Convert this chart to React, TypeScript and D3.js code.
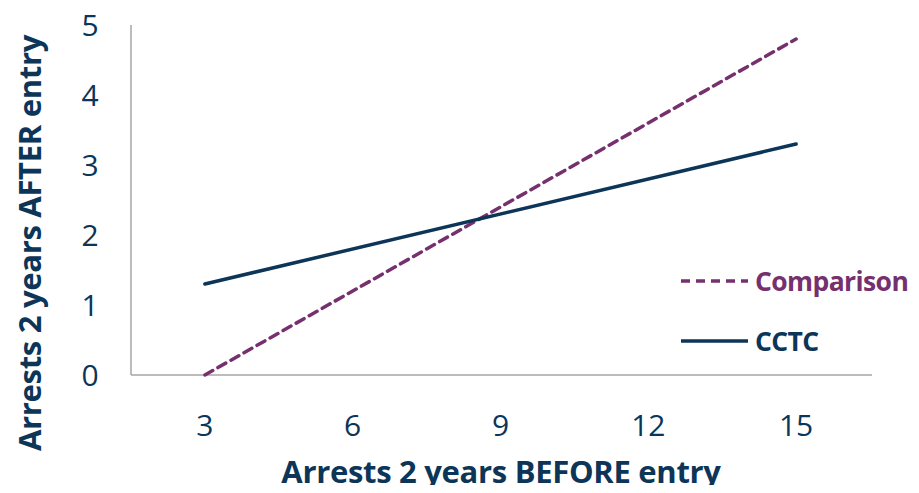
import { useEffect, useRef } from "react";
import * as d3 from "d3";

const xTicks = [3, 6, 9, 12, 15];
const yTicks = [0, 1, 2, 3, 4, 5];
const comparisonX = [3, 15];
const comparisonY = [0, 4.8];
const cctcX = [3, 15];
const cctcY = [1.3, 3.3];

const NAVY = "#0c3558";
const PURPLE = "#76306e";
const FONT = "'Open Sans', 'Noto Sans', sans-serif";

export default function App() {
  const svgRef = useRef<SVGSVGElement | null>(null);

  useEffect(() => {
    const svg = d3.select(svgRef.current);
    svg.selectAll("*").remove();

    const x = d3.scaleLinear().domain([1.5, 16.5]).range([131, 870]);
    const y = d3.scaleLinear().domain([0, 5]).range([375, 25]);

    // axes lines
    svg.append("line").attr("x1", 131).attr("x2", 131).attr("y1", y(5)).attr("y2", y(0))
      .attr("stroke", "#a6a6a6").attr("stroke-width", 1.5);
    svg.append("line").attr("x1", 131).attr("x2", 872).attr("y1", y(0)).attr("y2", y(0))
      .attr("stroke", "#a6a6a6").attr("stroke-width", 1.5);

    svg.append("g").selectAll("text").data(yTicks).join("text")
      .attr("x", 90).attr("y", (d) => y(d)).attr("dy", "0.36em")
      .attr("text-anchor", "middle").attr("fill", NAVY)
      .attr("font-family", FONT).attr("font-size", 30)
      .text((d) => d);

    svg.append("g").selectAll("text").data(xTicks).join("text")
      .attr("x", (d) => x(d)).attr("y", 425).attr("dy", "0.36em")
      .attr("text-anchor", "middle").attr("fill", NAVY)
      .attr("font-family", FONT).attr("font-size", 30)
      .text((d) => d);

    svg.append("text").attr("x", 501).attr("y", 483)
      .attr("text-anchor", "middle").attr("fill", NAVY)
      .attr("font-family", FONT).attr("font-weight", "bold").attr("font-size", 31)
      .attr("letter-spacing", -0.3)
      .text("Arrests 2 years BEFORE entry");

    svg.append("text").attr("transform", "translate(41,243) rotate(-90)")
      .attr("text-anchor", "middle").attr("fill", NAVY)
      .attr("font-family", FONT).attr("font-weight", "bold").attr("font-size", 31)
      .attr("letter-spacing", -0.3)
      .text("Arrests 2 years AFTER entry");

    const line = d3.line<[number, number]>().x((d) => x(d[0])).y((d) => y(d[1]));

    svg.append("path").datum(d3.zip(comparisonX, comparisonY) as [number, number][])
      .attr("d", line).attr("fill", "none").attr("stroke", PURPLE)
      .attr("stroke-width", 3.5).attr("stroke-dasharray", "9,6").attr("stroke-linecap", "round");

    svg.append("path").datum(d3.zip(cctcX, cctcY) as [number, number][])
      .attr("d", line).attr("fill", "none").attr("stroke", NAVY)
      .attr("stroke-width", 3.5).attr("stroke-linecap", "round");

    // legend
    const legend = [
      { label: "Comparison", color: PURPLE, dash: "9,6", yPos: 281 },
      { label: "CCTC", color: NAVY, dash: null, yPos: 341 },
    ];
    legend.forEach((l) => {
      svg.append("line").attr("x1", 681).attr("x2", 748).attr("y1", l.yPos).attr("y2", l.yPos)
        .attr("stroke", l.color).attr("stroke-width", 3.5)
        .attr("stroke-dasharray", l.dash ?? null);
      svg.append("text").attr("x", 755).attr("y", l.yPos).attr("dy", "0.36em")
        .attr("fill", l.color).attr("font-family", FONT).attr("font-weight", "bold")
        .attr("font-size", 26.5).attr("letter-spacing", -0.6).text(l.label);
    });
  }, []);

  return (
    <div style={{ margin: -8 }}>
      <svg ref={svgRef} width={919} height={493} style={{ display: "block", background: "#fff" }} />
    </div>
  );
}
